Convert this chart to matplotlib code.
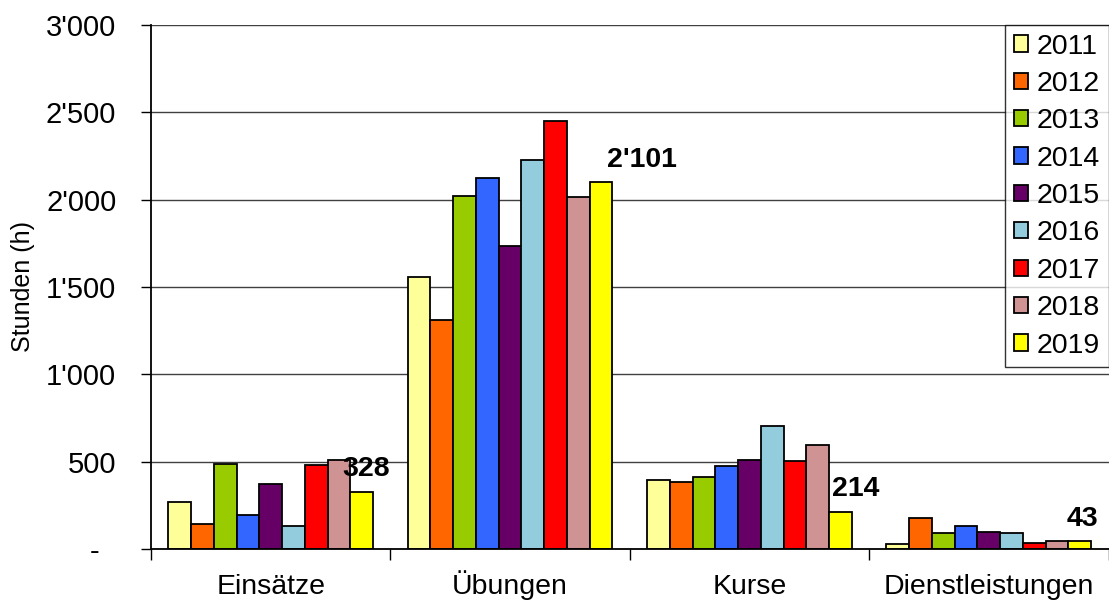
import matplotlib.pyplot as plt
import numpy as np
from matplotlib.ticker import FuncFormatter, FixedLocator

plt.rcParams['font.family'] = ['Liberation Sans', 'DejaVu Sans']

categories = ['Einsätze', 'Übungen', 'Kurse', 'Dienstleistungen']
years = ['2011', '2012', '2013', '2014', '2015', '2016', '2017', '2018', '2019']
einsaetze = [271, 144, 484, 196, 373, 129, 479, 511, 328]
uebungen = [1555, 1312, 2023, 2122, 1733, 2226, 2450, 2013, 2101]
kurse = [393, 382, 414, 475, 511, 704, 506, 596, 214]
dienst = [29, 176, 90, 132, 96, 90, 32, 48, 43]
colors = ['#FFFF99', '#FF6600', '#99CC00', '#3366FF', '#660066',
          '#93CDDD', '#FF0000', '#D09393', '#FFFF00']

# offsets (pixels) of the 2019 value labels
label_dx = [5, 41, 15, 3]
label_dy = [16, 15, 16, 15]


def fmt(v, pos):
    if v == 0:
        return '-  '
    return f"{v:,.0f}".replace(",", "'")


values = np.array([einsaetze, uebungen, kurse, dienst])

fig = plt.figure(figsize=(11.09, 6.01), dpi=100)
ax = fig.add_axes([151 / 1109, 52 / 601, 957.5 / 1109, 524 / 601])

x = np.arange(len(categories))
w = 0.095
for i, year in enumerate(years):
    ax.bar(x + (i - 4) * w, values[:, i], w, color=colors[i],
           edgecolor='black', linewidth=1.3, label=year, zorder=2)

last = values[:, -1]
for j in range(len(categories)):
    ax.annotate(fmt(last[j], None), (x[j] + 4 * w, last[j]),
                xytext=(label_dx[j], label_dy[j]), textcoords='offset pixels',
                ha='center', va='baseline', fontsize=20.5, fontweight='bold')

ax.set_xlim(-0.5, 3.5)
ax.set_ylim(0, 3000)
ax.set_yticks(np.arange(0, 3001, 500))
ax.yaxis.set_major_formatter(FuncFormatter(fmt))
ax.yaxis.grid(True, color='#404040', linewidth=1.0)
ax.set_axisbelow(True)

ax.xaxis.set_major_locator(FixedLocator([-0.5, 0.5, 1.5, 2.5, 3.5]))
ax.xaxis.set_major_formatter(FuncFormatter(lambda v, p: ''))
ax.xaxis.set_minor_locator(FixedLocator(x))
ax.set_xticklabels(categories, minor=True)
ax.tick_params(axis='x', which='major', direction='out', length=8, width=1)
ax.tick_params(axis='x', which='minor', length=0, pad=32.4, labelsize=20.5)
for t in ax.xaxis.get_minor_ticks():
    t.label1.set_va('baseline')
ax.tick_params(axis='y', direction='out', length=7, width=1, pad=18, labelsize=21)

for side in ['top', 'right']:
    ax.spines[side].set_visible(False)
for side in ['left', 'bottom']:
    ax.spines[side].set_linewidth(1.3)

ax.set_ylabel('Stunden (h)', fontsize=18, labelpad=8)

leg = ax.legend(loc='upper right', bbox_to_anchor=(1.0, 1.0), fontsize=20.5,
                frameon=True, fancybox=False, edgecolor='black',
                handlelength=0.5, handleheight=0.5, handletextpad=0.3,
                labelspacing=0.4, borderpad=0.3, borderaxespad=0)
leg.get_frame().set_linewidth(1.0)

fig.savefig('out.png', dpi=100)
